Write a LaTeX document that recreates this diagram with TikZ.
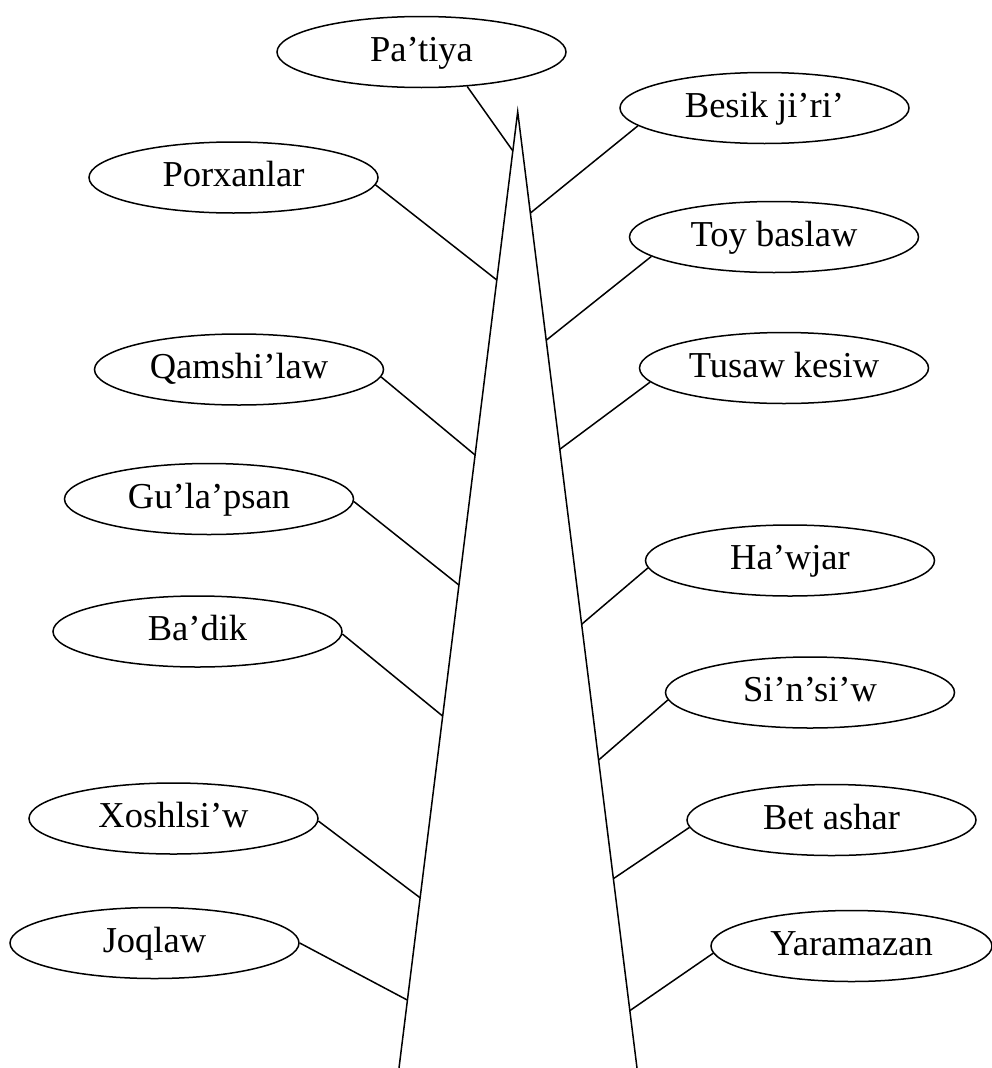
\documentclass[tikz,border=0pt]{standalone}
\usepackage{fontspec}
\setmainfont{Liberation Serif}
\usetikzlibrary{shapes.geometric,calc}
\tikzset{
  item/.style={draw, ellipse, line width=1.5pt, minimum width=289pt, minimum height=71pt,
    inner sep=0pt, font=\fontsize{36.5}{40}\selectfont, text height=26pt, text depth=8pt},
  link/.style={line width=1.5pt},
  spire/.style={line width=1.5pt, line join=miter}
}
\begin{document}
\begin{tikzpicture}[x=1pt,y=-1pt]
\useasboundingbox (0,0) rectangle (992,1068);
% central spire
\coordinate (apex) at (517.7,111.7);
\coordinate (bl) at (399,1068);
\coordinate (br) at (637,1068);
\draw[spire] (bl) -- (apex) -- (br);
% ellipses
\node[item] (nPa)  at (421.5,52)    {Pa’tiya};
\node[item] (nBe)  at (764.5,108)   {Besik ji’ri’};
\node[item] (nPo)  at (233.5,177.5) {Porxanlar};
\node[item] (nTo)  at (774,237)     {Toy baslaw};
\node[item] (nQa)  at (239,369.5)   {Qamshi’law};
\node[item] (nTu)  at (784,368)     {Tusaw kesiw};
\node[item] (nGu)  at (209,499)     {Gu’la’psan};
\node[item] (nHa)  at (790,560.5)   {Ha’wjar};
\node[item] (nBa)  at (197.5,631.5) {Ba’dik};
\node[item] (nSi)  at (810,692.5)   {Si’n’si’w};
\node[item] (nXo)  at (173.5,818.5) {Xoshlsi’w};
\node[item] (nBet) at (831.5,820)   {Bet ashar};
\node[item] (nJo)  at (154.5,943)   {Joqlaw};
\node[item, minimum width=281pt] (nYa) at (851.5,946) {Yaramazan};
% points on the spire
\coordinate (ePa)  at ($(apex)!0.041!(bl)$);
\coordinate (eBe)  at ($(apex)!0.106!(br)$);
\coordinate (ePo)  at ($(apex)!0.176!(bl)$);
\coordinate (eTo)  at ($(apex)!0.239!(br)$);
\coordinate (eQa)  at ($(apex)!0.359!(bl)$);
\coordinate (eTu)  at ($(apex)!0.353!(br)$);
\coordinate (eGu)  at ($(apex)!0.495!(bl)$);
\coordinate (eHa)  at ($(apex)!0.536!(br)$);
\coordinate (eBa)  at ($(apex)!0.632!(bl)$);
\coordinate (eSi)  at ($(apex)!0.678!(br)$);
\coordinate (eXo)  at ($(apex)!0.822!(bl)$);
\coordinate (eBet) at ($(apex)!0.802!(br)$);
\coordinate (eJo)  at ($(apex)!0.929!(bl)$);
\coordinate (eYa)  at ($(apex)!0.940!(br)$);
% connectors
\draw[link] (nPa.-37)   -- (ePa);
\draw[link] (nBe.188.6) -- (eBe);
\draw[link] (nPo.-3)    -- (ePo);
\draw[link] (nTo.189.4) -- (eTo);
\draw[link] (nQa.-3.9)  -- (eQa);
\draw[link] (nTu.186.5) -- (eTu);
\draw[link] (nGu.-1.6)  -- (eGu);
\draw[link] (nHa.183)   -- (eHa);
\draw[link] (nBa.-1.4)  -- (eBa);
\draw[link] (nSi.183)   -- (eSi);
\draw[link] (nXo.-1.8)  -- (eXo);
\draw[link] (nBet.183.2) -- (eBet);
\draw[link] (nJo.-0.5)  -- (eJo);
\draw[link] (nYa.183)   -- (eYa);
\end{tikzpicture}
\end{document}
